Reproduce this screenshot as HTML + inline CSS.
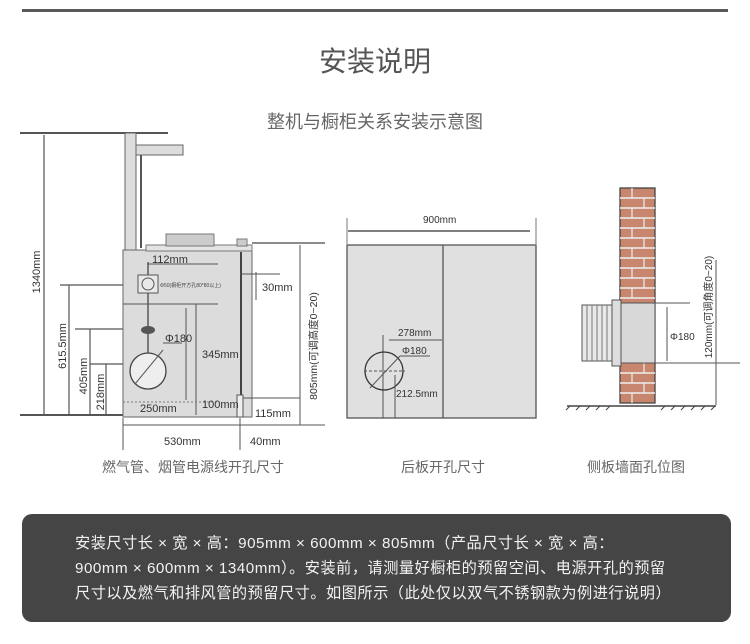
<!DOCTYPE html>
<html><head><meta charset="utf-8"><style>
body{margin:0;width:750px;height:644px;background:#fff;overflow:hidden;font-family:"Liberation Sans","Noto Sans CJK SC",sans-serif;}
.t{position:absolute;white-space:nowrap;color:#555;}
</style></head><body>
<div style="position:absolute;left:22px;top:9px;width:706px;height:3px;background:#5a5a5a"></div>
<div class="t" style="left:0;width:750px;text-align:center;top:40px;font-size:28px;color:#555">安装说明</div>
<div class="t" style="left:0;width:750px;text-align:center;top:108px;font-size:18px;color:#666">整机与橱柜关系安装示意图</div>
<svg width="750" height="644" style="position:absolute;left:0;top:0" font-family="Liberation Sans, Noto Sans CJK SC, sans-serif" fill="#333">
<g stroke="#555" stroke-width="1.2" fill="none">
<line x1="20" y1="133" x2="168" y2="133" stroke-width="2"/>
<line x1="44" y1="135" x2="44" y2="415"/>
<line x1="20" y1="415" x2="123" y2="415" stroke-width="2"/>
<line x1="69" y1="285" x2="69" y2="415"/>
<line x1="90" y1="329" x2="90" y2="415"/>
<line x1="106" y1="364" x2="106" y2="415"/>
<line x1="60" y1="285" x2="140" y2="285"/>
<line x1="75" y1="329" x2="140" y2="329"/>
<line x1="90" y1="364" x2="148" y2="364"/>
</g>
<rect x="125" y="133" width="11" height="117" fill="#ddd" stroke="#666"/>
<rect x="136" y="145" width="47" height="10" fill="#ddd" stroke="#666"/>
<line x1="141" y1="155" x2="141" y2="248" stroke="#555" stroke-width="2"/>
<rect x="123" y="250" width="129" height="167" fill="#dcdcdc" stroke="#666"/>
<rect x="146" y="245" width="106" height="6" fill="#e4e4e4" stroke="#777"/>
<rect x="166" y="234" width="48" height="12" fill="#ccc" stroke="#777"/>
<rect x="237" y="239" width="10" height="7" fill="#ccc" stroke="#777"/>
<line x1="252" y1="243" x2="325" y2="243" stroke="#666" stroke-width="1.5"/>
<line x1="241" y1="252" x2="241" y2="395" stroke="#444" stroke-width="2"/>
<rect x="237" y="395" width="6" height="22" fill="#eee" stroke="#555"/>
<line x1="243" y1="398" x2="300" y2="398" stroke="#555"/>
<line x1="123" y1="425" x2="325" y2="425" stroke="#555"/>
<line x1="123" y1="418" x2="123" y2="450" stroke="#555"/>
<line x1="240" y1="418" x2="240" y2="450" stroke="#555"/>
<line x1="300" y1="245" x2="300" y2="425" stroke="#555"/>
<line x1="256" y1="272" x2="256" y2="300" stroke="#555"/>
<line x1="240" y1="274" x2="280" y2="274" stroke="#555"/>
<line x1="148" y1="262" x2="148" y2="372" stroke="#444" stroke-width="1.3"/>
<line x1="148" y1="264" x2="218" y2="264" stroke="#555"/>
<line x1="123" y1="304" x2="218" y2="304" stroke="#555"/>
<line x1="196" y1="304" x2="196" y2="415" stroke="#555"/>
<line x1="186" y1="308" x2="186" y2="400" stroke="#555"/>
<line x1="123" y1="402" x2="220" y2="402" stroke="#777" stroke-dasharray="2 2"/>
<rect x="138" y="275" width="20" height="18" fill="#e8e8e8" stroke="#555"/>
<circle cx="148" cy="284" r="6" fill="none" stroke="#555"/>
<text x="160" y="287" font-size="5" fill="#444">Φ50(橱柜开方孔80*80以上)</text>
<ellipse cx="148" cy="330" rx="7" ry="4" fill="#555"/>
<circle cx="148" cy="371" r="18" fill="#eee" stroke="#444" stroke-width="1.3"/>
<line x1="135" y1="384" x2="163" y2="350" stroke="#555"/>
<line x1="163" y1="343" x2="182" y2="343" stroke="#555"/>
<g font-size="11" fill="#333">
<text x="152" y="263">112mm</text>
<text x="262" y="291">30mm</text>
<text x="165" y="342">Φ180</text>
<text x="202" y="358">345mm</text>
<text x="140" y="412">250mm</text>
<text x="202" y="408">100mm</text>
<text x="255" y="417">115mm</text>
<text x="164" y="445">530mm</text>
<text x="250" y="445">40mm</text>
<text transform="translate(40,272) rotate(-90)" text-anchor="middle">1340mm</text>
<text transform="translate(66,346) rotate(-90)" text-anchor="middle">615.5mm</text>
<text transform="translate(87,376) rotate(-90)" text-anchor="middle">405mm</text>
<text transform="translate(104,392) rotate(-90)" text-anchor="middle">218mm</text>
<text transform="translate(317,346) rotate(-90)" text-anchor="middle" font-size="10.5">805mm(可调高度0~20)</text>
</g>
<line x1="348" y1="231" x2="530" y2="231" stroke="#555" stroke-width="1.5"/>
<line x1="347" y1="218" x2="347" y2="244" stroke="#777"/>
<line x1="536" y1="218" x2="536" y2="244" stroke="#777"/>
<text x="423" y="223" font-size="10">900mm</text>
<rect x="347" y="245" width="189" height="173" fill="#e0e0e0" stroke="#555" stroke-width="1.3"/>
<line x1="443" y1="245" x2="443" y2="418" stroke="#555" stroke-width="1.3"/>
<line x1="389" y1="340" x2="442" y2="340" stroke="#555"/>
<line x1="383" y1="335" x2="383" y2="418" stroke="#555"/>
<circle cx="384" cy="371" r="19" fill="none" stroke="#333" stroke-width="1.3"/>
<line x1="364" y1="371" x2="405" y2="371" stroke="#555" stroke-dasharray="3 2"/>
<line x1="370" y1="388" x2="400" y2="356" stroke="#555"/>
<line x1="400" y1="356" x2="430" y2="356" stroke="#555"/>
<line x1="395" y1="375" x2="395" y2="418" stroke="#555"/>
<text x="398" y="336" font-size="10">278mm</text>
<text x="402" y="354" font-size="10">Φ180</text>
<text x="396" y="397" font-size="10">212.5mm</text>
<rect x="620" y="188" width="35" height="215" fill="#c9866e" stroke="#444" stroke-width="1.3"/>
<g stroke="#eee" stroke-width="1.5">
<line x1="620" y1="198" x2="655" y2="198"/><line x1="620" y1="208" x2="655" y2="208"/><line x1="620" y1="218" x2="655" y2="218"/><line x1="620" y1="228" x2="655" y2="228"/><line x1="620" y1="238" x2="655" y2="238"/><line x1="620" y1="248" x2="655" y2="248"/><line x1="620" y1="258" x2="655" y2="258"/><line x1="620" y1="268" x2="655" y2="268"/><line x1="620" y1="278" x2="655" y2="278"/><line x1="620" y1="288" x2="655" y2="288"/><line x1="620" y1="298" x2="655" y2="298"/>
<line x1="620" y1="373" x2="655" y2="373"/><line x1="620" y1="383" x2="655" y2="383"/><line x1="620" y1="393" x2="655" y2="393"/>
</g>
<g stroke="#eee" stroke-width="1.2">
<path d="M632 188v10M644 198v10M632 208v10M644 218v10M632 228v10M644 238v10M632 248v10M644 258v10M632 268v10M644 278v10M632 288v10M644 363v10M632 373v10M644 383v10M632 393v10"/>
</g>
<rect x="621" y="303" width="34" height="60" fill="#d8d8d8" stroke="#555"/>
<rect x="582" y="305" width="30" height="56" fill="#e8e8e8" stroke="#555"/>
<g stroke="#777"><line x1="587" y1="305" x2="587" y2="361"/><line x1="592" y1="305" x2="592" y2="361"/><line x1="597" y1="305" x2="597" y2="361"/><line x1="602" y1="305" x2="602" y2="361"/><line x1="607" y1="305" x2="607" y2="361"/></g>
<rect x="612" y="300" width="9" height="66" fill="#ddd" stroke="#555"/>
<line x1="655" y1="303" x2="690" y2="303" stroke="#555"/>
<line x1="655" y1="363" x2="740" y2="363" stroke="#555"/>
<line x1="667" y1="307" x2="667" y2="361" stroke="#555"/>
<line x1="716" y1="260" x2="716" y2="405" stroke="#555"/>
<text x="670" y="340" font-size="10">Φ180</text>
<text transform="translate(712,307) rotate(-90)" text-anchor="middle" font-size="10">120mm(可调角度0~20)</text>
<line x1="567" y1="406" x2="716" y2="406" stroke="#444" stroke-width="1.5"/>
<path d="M570 406l-4 4M580 406l-4 4M590 406l-4 4M600 406l-4 4M610 406l-4 4M665 406l-4 4M675 406l-4 4M685 406l-4 4M695 406l-4 4M705 406l-4 4M715 406l-4 4" stroke="#444"/>
<g font-size="14" fill="#666" text-anchor="middle">
<text x="193" y="472">燃气管、烟管电源线开孔尺寸</text>
<text x="443" y="472">后板开孔尺寸</text>
<text x="636" y="472">侧板墙面孔位图</text>
</g>
</svg>
<div style="position:absolute;left:22px;top:514px;width:709px;height:108px;background:#454545;border-radius:10px"></div>
<div style="position:absolute;left:75px;top:531px;color:#f2f2f2;font-size:15.2px;letter-spacing:0.5px;line-height:25px;font-family:'Liberation Sans','Noto Sans CJK SC',sans-serif;white-space:nowrap">安装尺寸长 × 宽 × 高：905mm × 600mm × 805mm（产品尺寸长 × 宽 × 高：<br>900mm × 600mm × 1340mm）。安装前，请测量好橱柜的预留空间、电源开孔的预留<br>尺寸以及燃气和排风管的预留尺寸。如图所示（此处仅以双气不锈钢款为例进行说明）</div>
</body></html>
